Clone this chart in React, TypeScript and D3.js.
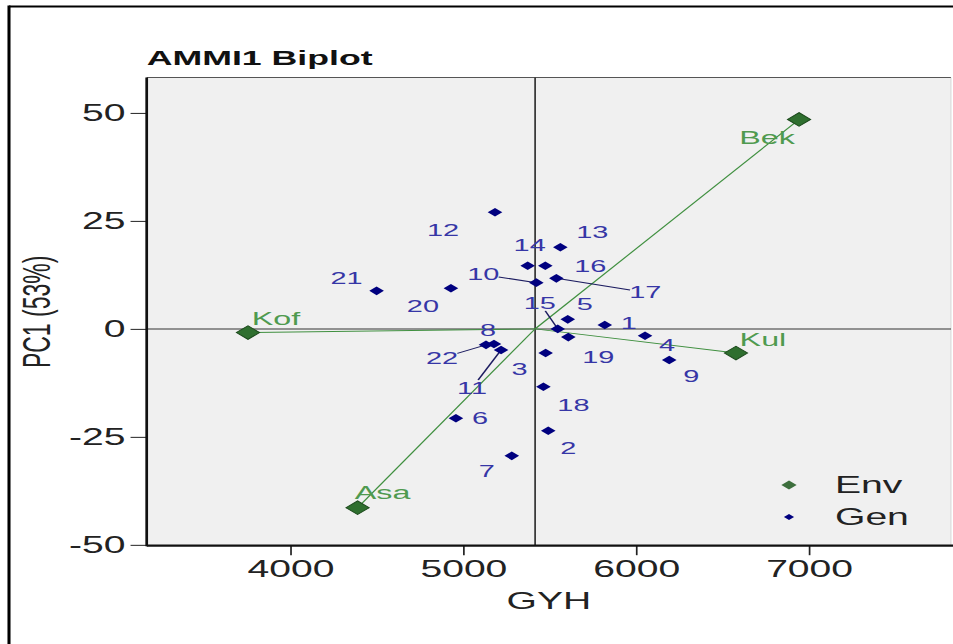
import { useEffect, useRef } from 'react';
import * as d3 from 'd3';

// the reference picture is stretched sideways, so draw narrow and stretch
const S = 1.7;
const W = 953;
const H = 644;
const VW = W / S;

const genIds = ['1', '2', '3', '4', '5', '6', '7', '8', '9', '10', '11', '12', '13', '14', '15', '16', '17', '18', '19', '20', '21', '22'];
const genGYH = [5820, 5493, 5478, 6053, 5606, 4959, 5282, 5179, 6193, 5424, 5220, 5185, 5563, 5374, 5548, 5476, 5540, 5465, 5609, 4930, 4500, 5133];
const genPC1 = [0.9, -23.6, -5.6, -1.6, 2.2, -20.7, -29.4, -3.5, -7.2, 10.7, -4.9, 27.0, 18.9, 14.6, 0.0, 14.6, 11.7, -13.4, -1.9, 9.4, 8.8, -3.7];

const envIds = ['Asa', 'Bek', 'Kof', 'Kul'];
const envGYH = [4390, 6944, 3756, 6579];
const envPC1 = [-41.4, 48.5, -0.86, -5.6];

const grandMean = 5417;
const xTicks = [4000, 5000, 6000, 7000];
const yTicks = [-50, -25, 0, 25, 50];

// label nudges in screen pixels (dx, dy), and which labels get a leader line
const genNudge: Record<string, [number, number]> = {
  '1': [24, -2], '2': [20, 17], '3': [-26, 16], '4': [22, 9], '5': [17, -15],
  '6': [24, 0], '7': [-25, 15], '8': [-6, -14], '9': [22, 16], '10': [-53, -8],
  '11': [-29, 38], '12': [-52, 18], '13': [32, -15], '14': [2, -21], '15': [-18, -26],
  '16': [45, 0], '17': [89, 14], '18': [30, 19], '19': [30, 20], '20': [-28, 18],
  '21': [-30, -13], '22': [-44, 13],
};
const leaders = ['10', '11', '15', '17', '22'];
const envNudge: Record<string, [number, number]> = {
  Asa: [25, -15], Bek: [-32, 18], Kof: [28, -14], Kul: [27, -14],
};

const FONT = '"Liberation Sans", Arial, sans-serif';

export default function App() {
  const svgRef = useRef<SVGSVGElement | null>(null);

  useEffect(() => {
    if (!svgRef.current) return;
    const svg = d3.select(svgRef.current);
    svg.selectAll('*').remove();

    const left = 146.7 / S;
    const right = 951 / S;
    const top = 77.5;
    const bottom = 545.7;

    const x = d3.scaleLinear().domain([3170, 7823]).range([left, right]);
    const y = d3.scaleLinear().domain([-50.2, 58.2]).range([bottom, top]);

    svg.append('rect').attr('width', VW).attr('height', H).attr('fill', '#fff');

    // outer frame of the figure (only its top and left edges are in view)
    svg.append('line')
      .attr('x1', 9 / S).attr('x2', VW).attr('y1', 6.5).attr('y2', 6.5)
      .attr('stroke', '#000').attr('stroke-width', 2);
    svg.append('line')
      .attr('x1', 9 / S).attr('x2', 9 / S).attr('y1', 5.5).attr('y2', H)
      .attr('stroke', '#000').attr('stroke-width', 1.8);

    // panel
    svg.append('rect')
      .attr('x', left).attr('y', top)
      .attr('width', right - left).attr('height', bottom - top)
      .attr('fill', '#f0f0f0');
    svg.append('line')
      .attr('x1', left).attr('x2', right).attr('y1', top).attr('y2', top)
      .attr('stroke', '#555').attr('stroke-width', 1);
    svg.append('line')
      .attr('x1', right).attr('x2', right).attr('y1', top).attr('y2', bottom)
      .attr('stroke', '#c8c8c8').attr('stroke-width', 0.5);

    svg.append('text')
      .attr('x', left).attr('y', 65)
      .attr('font-family', FONT).attr('font-size', 21).attr('font-weight', 700)
      .attr('fill', '#111')
      .text('AMMI1 Biplot');

    const g = svg.append('g');

    // reference lines
    g.append('line')
      .attr('x1', left).attr('x2', right)
      .attr('y1', y(0)).attr('y2', y(0))
      .attr('stroke', '#333').attr('stroke-width', 1);
    g.append('line')
      .attr('x1', x(grandMean)).attr('x2', x(grandMean))
      .attr('y1', top).attr('y2', bottom)
      .attr('stroke', '#333').attr('stroke-width', 1);

    // environment vectors
    envIds.forEach((_, i) => {
      g.append('line')
        .attr('x1', x(grandMean)).attr('y1', y(0))
        .attr('x2', x(envGYH[i])).attr('y2', y(envPC1[i]))
        .attr('stroke', '#3f8f3f').attr('stroke-width', 0.9);
    });

    // genotype leader lines
    genIds.forEach((id, i) => {
      if (!leaders.includes(id)) return;
      const px = x(genGYH[i]);
      const py = y(genPC1[i]);
      const lx = px + genNudge[id][0] / S;
      const ly = py + genNudge[id][1];
      const dx = px - lx;
      const dy = py - ly;
      const hw = 9;
      const hh = 8;
      const t = Math.min(Math.abs(dx) > 0 ? hw / Math.abs(dx) : 1, Math.abs(dy) > 0 ? hh / Math.abs(dy) : 1);
      g.append('line')
        .attr('x1', lx + dx * t).attr('y1', ly + dy * t)
        .attr('x2', px).attr('y2', py)
        .attr('stroke', '#1c1c60').attr('stroke-width', 1);
    });

    const diamond = (cx: number, cy: number, r: number) =>
      `M${cx},${cy - r}L${cx + r},${cy}L${cx},${cy + r}L${cx - r},${cy}Z`;

    // genotype points
    genIds.forEach((_, i) => {
      g.append('path')
        .attr('d', diamond(x(genGYH[i]), y(genPC1[i]), 4.3))
        .attr('fill', '#00007f');
    });

    // environment points
    envIds.forEach((_, i) => {
      g.append('path')
        .attr('d', diamond(x(envGYH[i]), y(envPC1[i]), 6.8))
        .attr('fill', '#2f6f2f').attr('stroke', '#1d4a1d').attr('stroke-width', 0.8);
    });

    // labels
    genIds.forEach((id, i) => {
      g.append('text')
        .attr('x', x(genGYH[i]) + genNudge[id][0] / S)
        .attr('y', y(genPC1[i]) + genNudge[id][1])
        .attr('text-anchor', 'middle').attr('dominant-baseline', 'central')
        .attr('font-family', FONT).attr('font-size', 17)
        .attr('fill', '#3636a6')
        .text(id);
    });
    envIds.forEach((id, i) => {
      g.append('text')
        .attr('x', x(envGYH[i]) + envNudge[id][0] / S)
        .attr('y', y(envPC1[i]) + envNudge[id][1])
        .attr('text-anchor', 'middle').attr('dominant-baseline', 'central')
        .attr('font-family', FONT).attr('font-size', 19)
        .attr('fill', '#4f9a4f')
        .text(id);
    });

    // axes
    const xAxis = svg.append('g').attr('transform', `translate(0,${bottom})`)
      .call(d3.axisBottom(x).tickValues(xTicks).tickSize(9.5).tickPadding(5).tickFormat((d) => String(d)));
    xAxis.select('.domain').remove();
    xAxis.selectAll('line').attr('stroke', '#222').attr('stroke-width', 1);
    xAxis.selectAll('text').attr('font-family', FONT).attr('font-size', 23).attr('fill', '#222');

    const yAxis = svg.append('g').attr('transform', `translate(${left},0)`)
      .call(d3.axisLeft(y).tickValues(yTicks).tickSize(9.5).tickPadding(3).tickFormat((d) => String(d)));
    yAxis.select('.domain').remove();
    yAxis.selectAll('line').attr('stroke', '#222').attr('stroke-width', 1);
    yAxis.selectAll('text').attr('font-family', FONT).attr('font-size', 23).attr('fill', '#222');

    // heavy axis lines on left and bottom
    svg.append('line')
      .attr('x1', left).attr('x2', left).attr('y1', top).attr('y2', bottom + 0.5)
      .attr('stroke', '#111').attr('stroke-width', 1.6);
    svg.append('line')
      .attr('x1', left).attr('x2', VW).attr('y1', bottom).attr('y2', bottom)
      .attr('stroke', '#111').attr('stroke-width', 2.2);

    svg.append('text')
      .attr('x', (left + right) / 2).attr('y', 609)
      .attr('text-anchor', 'middle')
      .attr('font-family', FONT).attr('font-size', 23).attr('fill', '#222')
      .text('GYH');

    svg.append('text')
      .attr('transform', `translate(${50 / S},${y(0) - 17}) rotate(-90)`)
      .attr('text-anchor', 'middle')
      .attr('font-family', FONT).attr('font-size', 23).attr('fill', '#222')
      .text('PC1 (53%)');

    // legend
    const legX = 789 / S;
    const legend = [
      { label: 'Env', color: '#3d6f3d', r: 4.5, y: 485 },
      { label: 'Gen', color: '#00007f', r: 3, y: 517 },
    ];
    legend.forEach((d) => {
      svg.append('path').attr('d', diamond(legX, d.y, d.r)).attr('fill', d.color);
      svg.append('text')
        .attr('x', 835 / S).attr('y', d.y)
        .attr('dominant-baseline', 'central')
        .attr('font-family', FONT).attr('font-size', 23).attr('fill', '#222')
        .text(d.label);
    });
  }, []);

  return (
    <div style={{ position: 'absolute', left: 0, top: 0, width: W, height: H, overflow: 'hidden' }}>
      <svg
        ref={svgRef}
        width={W}
        height={H}
        viewBox={`0 0 ${VW} ${H}`}
        preserveAspectRatio="none"
        style={{ display: 'block' }}
      />
    </div>
  );
}
